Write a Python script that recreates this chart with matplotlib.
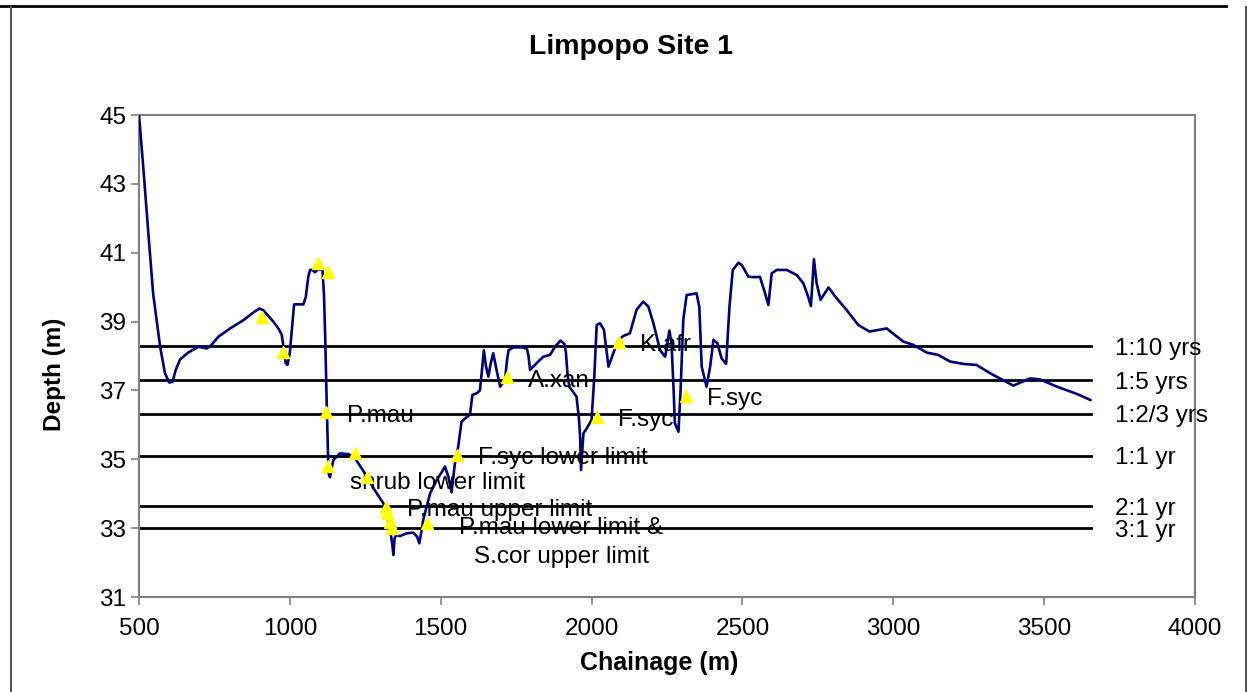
import matplotlib.pyplot as plt
from matplotlib.lines import Line2D

plt.rcParams['font.family'] = ['Liberation Sans', 'DejaVu Sans']

# ground profile along the transect
chainage = [500, 514, 531, 547, 570, 586, 600, 611, 622, 636, 663, 697, 712, 725, 740,
            763, 802, 846, 880, 899, 912, 930, 945, 962, 973, 980, 986, 992, 1000, 1008,
            1014, 1045, 1053, 1061, 1067, 1075, 1083, 1094, 1108, 1113, 1117, 1122, 1128,
            1133, 1144, 1166, 1194, 1216, 1249, 1277, 1310, 1326, 1334, 1340, 1343, 1347,
            1352, 1365, 1387, 1409, 1422, 1429, 1436, 1442, 1465, 1487, 1505, 1514, 1525,
            1536, 1547, 1558, 1569, 1583, 1597, 1605, 1620, 1630, 1638, 1643, 1650, 1658,
            1666, 1674, 1685, 1697, 1713, 1720, 1725, 1741, 1774, 1786, 1791, 1796, 1818,
            1840, 1862, 1879, 1897, 1910, 1915, 1920, 1926, 1950, 1958, 1962, 1965, 1973,
            1984, 2000, 2009, 2017, 2028, 2041, 2056, 2072, 2089, 2105, 2127, 2149, 2171,
            2188, 2205, 2227, 2244, 2258, 2265, 2272, 2276, 2288, 2295, 2304, 2315, 2348,
            2357, 2365, 2381, 2393, 2404, 2417, 2431, 2446, 2457, 2468, 2487, 2498, 2520,
            2542, 2558, 2575, 2586, 2597, 2614, 2647, 2680, 2702, 2718, 2727, 2737, 2746,
            2759, 2785, 2812, 2845, 2884, 2921, 2978, 3033, 3067, 3111, 3149, 3188, 3232,
            3276, 3321, 3398, 3453, 3486, 3542, 3608, 3654]
depth = [45.0, 43.5, 41.56, 39.8, 38.27, 37.5, 37.23, 37.25, 37.6, 37.9, 38.1, 38.27, 38.24,
         38.22, 38.32, 38.56, 38.8, 39.04, 39.27, 39.38, 39.33, 39.15, 39.0, 38.8, 38.62,
         38.2, 37.8, 37.74, 38.1, 38.9, 39.5, 39.5, 39.72, 40.3, 40.5, 40.5, 40.43, 40.52,
         40.5, 39.8, 38.6, 36.7, 34.6, 34.48, 34.98, 35.17, 35.15, 35.03, 34.59, 34.16,
         33.72, 33.33, 32.85, 32.5, 32.22, 32.7, 32.8, 32.77, 32.85, 32.87, 32.75, 32.56,
         32.9, 33.24, 34.01, 34.4, 34.65, 34.79, 34.5, 34.04, 34.88, 35.37, 36.09, 36.2,
         36.3, 36.87, 36.92, 37.0, 37.7, 38.17, 37.7, 37.4, 37.8, 38.08, 37.6, 37.11, 37.3,
         37.9, 38.17, 38.25, 38.25, 38.2, 38.0, 37.6, 37.79, 37.98, 38.03, 38.27, 38.45,
         38.35, 38.1, 37.5, 37.11, 36.82, 36.2, 35.66, 34.69, 35.75, 35.9, 36.14, 37.4,
         38.9, 38.95, 38.76, 37.69, 38.08, 38.47, 38.58, 38.66, 39.34, 39.58, 39.44, 38.95,
         38.17, 37.98, 38.74, 38.37, 37.0, 36.05, 35.8, 37.01, 39.05, 39.77, 39.82, 39.43,
         37.69, 37.11, 37.69, 38.47, 38.37, 37.93, 37.77, 39.43, 40.5, 40.71, 40.64, 40.3,
         40.29, 40.3, 39.82, 39.48, 40.4, 40.5, 40.5, 40.35, 40.11, 39.72, 39.45, 40.81,
         40.11, 39.63, 39.99, 39.68, 39.34, 38.9, 38.71, 38.8, 38.42, 38.32, 38.1, 38.03,
         37.84, 37.77, 37.74, 37.5, 37.14, 37.35, 37.32, 37.11, 36.9, 36.72]

# flood return levels
flood_labels = ['1:10 yrs', '1:5 yrs', '1:2/3 yrs', '1:1 yr', '2:1 yr', '3:1 yr']
flood_levels = [38.29, 37.30, 36.32, 35.10, 33.64, 33.0]

# vegetation observations
veg_x = [908, 977, 1093, 1127, 1120, 1127, 1216, 1257, 1319, 1323, 1332, 1337, 1453,
         1554, 1720, 2018, 2091, 2313]
veg_y = [39.13, 38.12, 40.70, 40.44, 36.37, 34.80, 35.18, 34.50, 33.62, 33.43, 33.19,
         33.0, 33.14, 35.13, 37.39, 36.23, 38.41, 36.84]
veg_labels = ['', '', '', '', 'P.mau', '', '', 'shrub lower limit', 'P.mau upper limit',
              '', '', '', 'P.mau lower limit &\nS.cor upper limit', 'F.syc lower limit',
              'A.xan', 'F.syc', 'K.afr', 'F.syc']

fig = plt.figure(figsize=(12.51, 6.92), dpi=100)
ax = fig.add_axes([139 / 1251, 1 - 597 / 692, 1056 / 1251, 482 / 692])

line_end = chainage[-1]
for lvl, lab in zip(flood_levels, flood_labels):
    ax.plot([chainage[0], line_end], [lvl, lvl], color='black', lw=2.0, zorder=2)
    ax.text(3735, lvl, lab, fontsize=17.5, va='center_baseline', ha='left', clip_on=False)

ax.plot(chainage, depth, color='#000080', lw=1.9, zorder=3,
        solid_joinstyle='round', solid_capstyle='round')
ax.plot(veg_x, veg_y, linestyle='none', marker='^', color='#FFFF00', ms=9, zorder=4)

for x, y, lab in zip(veg_x, veg_y, veg_labels):
    if not lab:
        continue
    if lab.startswith('shrub'):
        ax.annotate(lab, (x, y), xytext=(-17, -4), textcoords='offset pixels',
                    fontsize=17.5, ha='left', va='center_baseline')
    elif '\n' in lab:
        ax.annotate(lab, (x, y), xytext=(135, -19), textcoords='offset pixels',
                    fontsize=17.5, ha='center', va='center', linespacing=1.4)
    else:
        ax.annotate(lab, (x, y), xytext=(21, -1), textcoords='offset pixels',
                    fontsize=17.5, ha='left', va='center_baseline')

ax.set_xlim(500, 4000)
ax.set_ylim(31, 45)
ax.set_xticks(range(500, 4001, 500))
ax.set_yticks(range(31, 46, 2))
ax.tick_params(labelsize=17.5, color='#808080', length=6, width=1.2, direction='out')
ax.tick_params(axis='x', pad=9)
ax.tick_params(axis='y', pad=3)
for s in ax.spines.values():
    s.set_color('#808080')
    s.set_linewidth(1.5)

fig.text(631 / 1251, 1 - 47 / 692, 'Limpopo Site 1', fontsize=20.5, fontweight='bold',
         ha='center', va='center')
fig.text(659 / 1251, 1 - 663 / 692, 'Chainage (m)', fontsize=18, fontweight='bold',
         ha='center', va='center')
fig.text(55 / 1251, 1 - 374 / 692, 'Depth (m)', fontsize=17.5, fontweight='bold',
         ha='center', va='center', rotation=90)

# page frame around the chart
fig.add_artist(Line2D([0, 1226 / 1251], [1 - 5.5 / 692] * 2, color='black', lw=2))
fig.add_artist(Line2D([11 / 1251] * 2, [0, 1 - 7 / 692], color='#555555', lw=1.5))
fig.add_artist(Line2D([1246 / 1251] * 2, [0, 1 - 7 / 692], color='#555555', lw=1.5))

fig.savefig('out.png', dpi=100)
